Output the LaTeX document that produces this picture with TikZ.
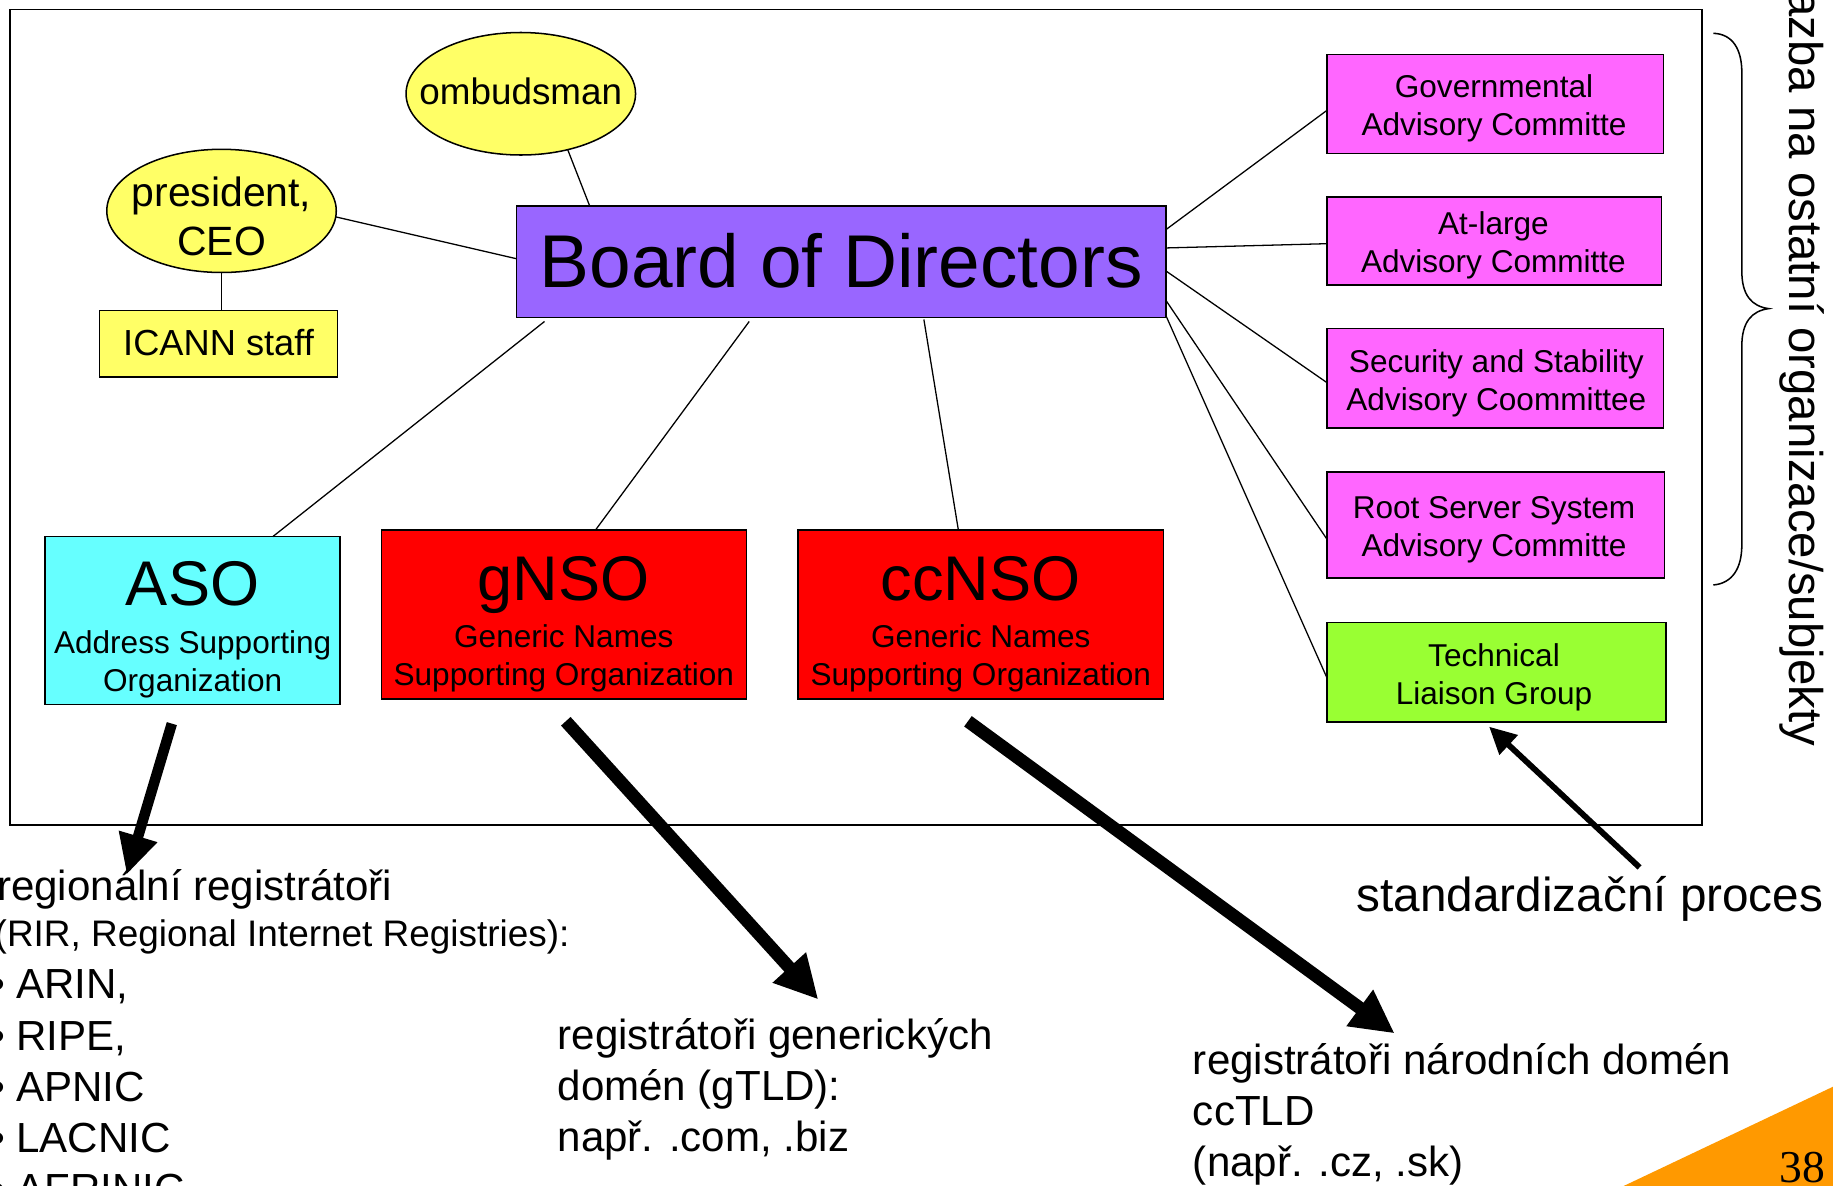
\documentclass[tikz,border=0pt]{standalone}
\usepackage{fontspec}
\setmainfont{Liberation Sans}
\newfontfamily\serifnum{Liberation Serif}
\usetikzlibrary{arrows.meta,shapes.geometric,calc}
\definecolor{cPurple}{HTML}{9966FF}
\definecolor{cCyan}{HTML}{66FFFF}
\definecolor{cRed}{HTML}{FF0000}
\definecolor{cMagenta}{HTML}{FF66FF}
\definecolor{cGreen}{HTML}{99FF33}
\definecolor{cYellow}{HTML}{FFFF66}
\definecolor{cOrange}{HTML}{FF9900}
\begin{document}
\begin{tikzpicture}[x=1pt,y=-1pt,
  shp/.style={draw=black, line width=1.3pt, inner sep=0pt, outer sep=0pt},
  conn/.style={line width=1.1pt},
  txt/.style={inner sep=0pt, outer sep=0pt},
  boxtext/.style={txt, align=center, font=\fontsize{27}{32.5}\selectfont},
  orgtitle/.style={txt, anchor=base, font=\fontsize{54}{60}\selectfont},
  orgsub/.style={txt, align=center, font=\fontsize{27}{33}\selectfont},
  btxt/.style={txt, anchor=base west, font=\fontsize{36}{43}\selectfont},
  bigarrow/.style={line width=11pt, -{Triangle[length=37pt,width=36pt]}},
  midarrow/.style={line width=9pt, -{Triangle[length=34pt,width=32pt]}},
  thinarrow/.style={line width=5pt, -{Triangle[length=23pt,width=22pt]}}]
\useasboundingbox (0,0) rectangle (1568,1014);

% orange corner and page number
\fill[cOrange] (1385.8,1016) -- (1572,927.7) -- (1572,1016) -- cycle;
\node[txt, anchor=base west, font=\serifnum\fontsize{39}{40}\selectfont] (pg) at (1522,1011.7) {38};

% frame
\draw[line width=1.5pt] (8.5,8.2) rectangle (1456,705.7);

% shapes
\node[shp, fill=cYellow, ellipse, minimum width=196.3pt, minimum height=104.8pt] (omb) at (445.5,80.2) {};
\node[shp, fill=cYellow, ellipse, minimum width=196.3pt, minimum height=105.4pt] (pres) at (189.5,180.4) {};
\node[shp, fill=cYellow, minimum width=203.3pt, minimum height=56.7pt] (icann) at (186.95,294.15) {};
\node[shp, fill=cPurple, minimum width=555.7pt, minimum height=95.6pt] (board) at (719.55,223.9) {};
\node[shp, fill=cCyan, minimum width=252.4pt, minimum height=143.8pt] (aso) at (164.8,530.9) {};
\node[shp, fill=cRed, minimum width=312.2pt, minimum height=144.5pt] (gnso) at (482.3,525.65) {};
\node[shp, fill=cRed, minimum width=312.8pt, minimum height=144.5pt] (ccnso) at (839,525.65) {};
\node[shp, fill=cMagenta, minimum width=287.7pt, minimum height=84.5pt] (gac) at (1279.15,89.05) {};
\node[shp, fill=cMagenta, minimum width=286.1pt, minimum height=75.3pt] (alac) at (1278.35,206.25) {};
\node[shp, fill=cMagenta, minimum width=287.7pt, minimum height=85.1pt] (ssac) at (1279.15,323.45) {};
\node[shp, fill=cMagenta, minimum width=288.7pt, minimum height=90.7pt] (rssac) at (1279.65,449.05) {};
\node[shp, fill=cGreen, minimum width=289.7pt, minimum height=85.2pt] (tlg) at (1280.15,575) {};

% texts in shapes
\node[txt, anchor=base, font=\fontsize{31.5}{36}\selectfont] (ombT) at (445.5,89) {ombudsman};
\node[txt, align=center, font=\fontsize{35}{42}\selectfont] (presT) at (189.5,185) {president,\\CEO};
\node[txt, anchor=base, font=\fontsize{31}{36}\selectfont] (icannT) at (186.95,304.5) {ICANN staff};
\node[txt, anchor=base, font=\fontsize{64}{70}\selectfont] (boardT) at (719.55,246.2) {Board of Directors};
\node[orgtitle] (asoT) at (164.8,518) {ASO};
\node[orgsub] (asoS) at (164.8,568.2) {Address Supporting\\Organization};
\node[orgtitle] (gnsoT) at (482.3,514) {gNSO};
\node[orgsub] (gnsoS) at (482.3,563.2) {Generic Names\\Supporting Organization};
\node[orgtitle] (ccnsoT) at (839,514) {ccNSO};
\node[orgsub] (ccnsoS) at (839,563.2) {Generic Names\\Supporting Organization};
\node[boxtext] (gacT) at (1278,92.9) {Governmental\\Advisory Committe};
\node[boxtext] (alacT) at (1277.5,210) {At-large\\Advisory Committe};
\node[boxtext] (ssacT) at (1280,328) {Security and Stability\\Advisory Coommittee};
\node[boxtext] (rssacT) at (1278,453) {Root Server System\\Advisory Committe};
\node[boxtext] (tlgT) at (1278,579) {Technical\\Liaison Group};

% thin connectors
\draw[conn] (omb.-50) -- ($(board.north west)+(62.7,0)$);
\draw[conn] (pres.-3) -- ($(board.north west)+(0,45.2)$);
\draw[conn] (pres.south) -- (pres.south |- icann.north);
\draw[conn] ($(board.north east)+(0,20.3)$) -- ($(gac.west)+(0,5.2)$);
\draw[conn] ($(board.north east)+(0,36)$) -- ($(alac.west)+(0,2.2)$);
\draw[conn] ($(board.north east)+(0,55.7)$) -- ($(ssac.west)+(0,4)$);
\draw[conn] ($(board.north east)+(0,80.9)$) -- ($(rssac.west)+(0,12.5)$);
\draw[conn] ($(board.north east)+(0,94)$) -- ($(tlg.west)+(0,5.3)$);
\draw[conn] ($(board.south west)+(24.1,3.3)$) -- ($(aso.north west)+(194.8,0)$);
\draw[conn] ($(board.south west)+(199.2,3.3)$) -- ($(gnso.north west)+(183.2,0)$);
\draw[conn] ($(board.south west)+(348.6,1.6)$) -- ($(ccnso.north west)+(137.2,0)$);

% brace
\draw[line width=1.3pt] (1465.6,28.5) .. controls (1482,29) and (1490,42) .. (1490,62)
  -- (1490,232) .. controls (1490,252) and (1498,262) .. (1513,264)
  .. controls (1498,266) and (1490,276) .. (1490,296)
  -- (1490,466) .. controls (1490,486) and (1482,499) .. (1465.6,500.4);
\node[txt, anchor=base west, rotate=-90, font=\fontsize{40.5}{44}\selectfont] (side) at (1531,-8) {azba na ostatní organizace/subjekty};

% bottom texts
\node[btxt] (rir1) at (-2.5,770) {regionální registrátoři};
\node[btxt, font=\fontsize{31.6}{36}\selectfont] (rir2) at (-4.5,809.8) {(RIR, Regional Internet Registries):};
\node[btxt] (rir3) at (-8.5,854.4) {• ARIN,};
\node[btxt] (rir4) at (-8.5,898.3) {• RIPE,};
\node[btxt] (rir5) at (-8.5,941.9) {• APNIC};
\node[btxt] (rir6) at (-8.5,985.5) {• LACNIC};
\node[btxt] (rir7) at (-8.5,1029.1) {• AFRINIC};
\node[btxt] (gt1) at (477,897.5) {registrátoři generických};
\node[btxt] (gt2) at (477,941.3) {domén (gTLD):};
\node[btxt] (gt3) at (477,985) {např. .com, .biz};
\node[btxt] (cc1) at (1020.5,918.8) {registrátoři národních domén};
\node[btxt] (cc2) at (1020.5,962.4) {ccTLD};
\node[btxt] (cc3) at (1020.5,1006) {(např. .cz, .sk)};
\node[btxt, font=\fontsize{40.8}{46}\selectfont] (std) at (1160.5,780) {standardizační proces};

% thick arrows
\coordinate (asoTip) at (108.4,748);
\coordinate (gnsoTip) at (700,855);
\coordinate (ccnsoTip) at (1193,884);
\coordinate (stdTail) at (1402.5,742);
\draw[midarrow] ($(aso.south west)+(108.4,16.2)$) -- (asoTip);
\draw[bigarrow] ($(gnso.south west)+(157.8,19.1)$) -- (gnsoTip);
\draw[bigarrow] ($(ccnso.south west)+(145.4,19.1)$) -- (ccnsoTip);
\draw[thinarrow] (stdTail) -- ($(tlg.south west)+(138.5,4)$);
\end{tikzpicture}
\end{document}
